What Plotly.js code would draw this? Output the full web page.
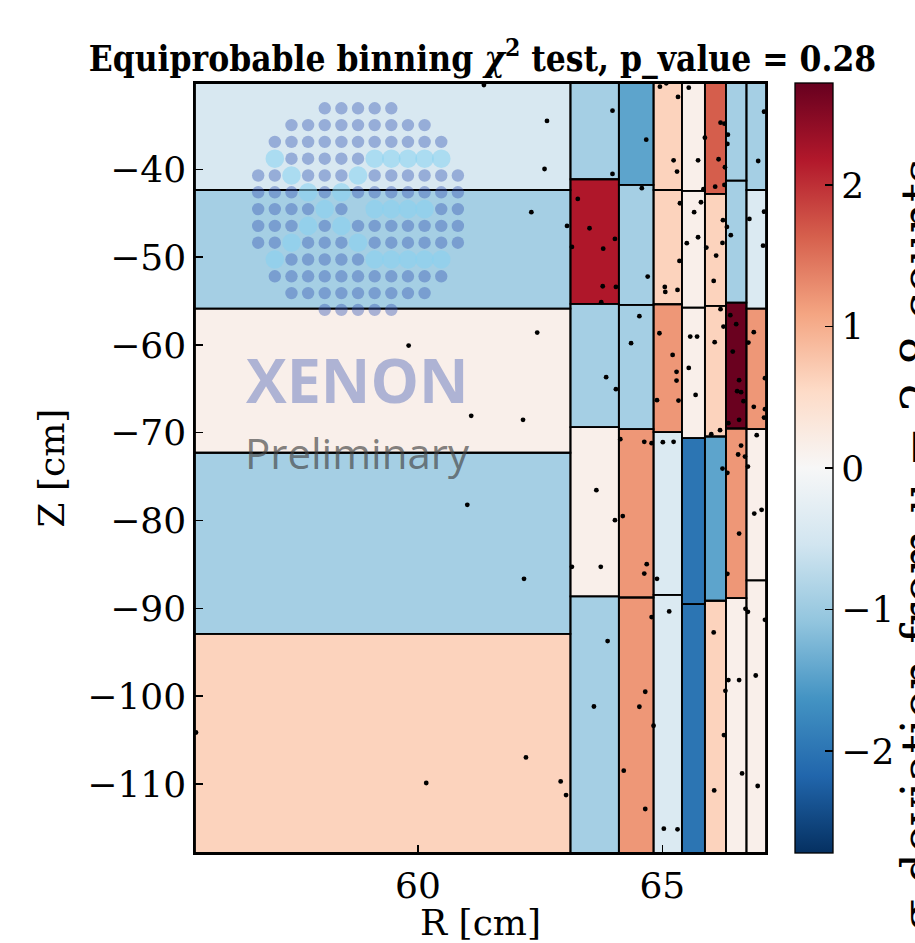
<!DOCTYPE html>
<html>
<head>
<meta charset="utf-8">
<script src="https://cdn.plot.ly/plotly-3.0.1.min.js"></script>
<style>html,body{margin:0;padding:0;background:#fff;}#chart{width:915px;height:943px;}</style>
</head>
<body>
<div id="chart"></div>
<script>
// ---------------- data ----------------
// R bin edges (cm) of the 8 radial columns
const R_edges = [55.44, 63.12, 64.11, 64.82, 65.40, 65.87, 66.30, 66.72, 67.12];
// Z bin edges (cm) in each column, bottom -> top
const Z_edges_c0 = [-117.85, -92.89, -72.28, -55.87, -42.36, -30.18];
const Z_edges_c1 = [-117.85, -88.64, -69.36, -55.33, -41.14, -30.18];
const Z_edges_c2 = [-117.85, -88.76, -69.59, -55.45, -41.79, -30.18];
const Z_edges_c3 = [-117.85, -88.45, -69.93, -55.37, -42.36, -30.18];
const Z_edges_c4 = [-117.85, -89.51, -70.62, -55.75, -42.47, -30.18];
const Z_edges_c5 = [-117.85, -89.13, -70.43, -55.56, -42.81, -30.18];
const Z_edges_c6 = [-117.85, -88.83, -69.52, -55.18, -41.30, -30.18];
const Z_edges_c7 = [-117.85, -86.80, -69.59, -55.87, -42.36, -30.18];
// sigma deviation in each bin, bottom -> top
const dev_c0 = [0.62, -0.92, 0.15, -0.92, -0.45];
const dev_c1 = [-0.92, 0.15, -0.92, 2.20, -0.92];
const dev_c2 = [1.20, 1.20, -0.92, -0.92, -1.45];
const dev_c3 = [-0.40, -0.40, 1.20, 0.62, 0.62];
const dev_c4 = [-2.00, -2.00, 0.15, 0.15, 0.15];
const dev_c5 = [0.62, -1.45, 0.62, 0.62, 1.65];
const dev_c6 = [0.15, 1.20, 2.70, -0.92, -0.92];
const dev_c7 = [0.15, 0.15, 1.20, -0.40, -0.92];
// events (R, Z)
const evR = [61.35,62.64,62.59,62.32,63.05,62.44,59.81,61.09,62.15,61.01,62.17,55.46,62.21,60.17,62.92,63.03,
 63.98,63.98,64.67,64.95,65.08,65.32,65.23,65.30,65.54,65.73,65.87,65.84,66.19,66.27,66.34,66.33,66.15,66.28,66.08,66.27,67.08,66.96,
 64.58,63.27,63.51,63.15,64.03,63.79,63.78,64.05,63.75,64.70,65.36,65.35,65.05,65.06,65.31,65.79,65.65,65.50,65.73,65.90,66.24,66.23,
 66.32,66.40,66.10,66.05,66.78,67.08,67.06,64.53,64.94,65.57,65.71,66.19,66.25,66.39,66.51,66.87,
 66.07,66.76,66.44,64.36,65.21,65.29,65.29,64.89,65.33,65.54,65.68,66.57,66.53,66.61,66.66,66.57,66.35,66.87,67.10,67.10,67.08,
 63.85,64.05,66.00,66.18,64.14,64.63,64.78,65.01,65.23,66.61,66.55,66.69,66.75,66.93,66.23,66.33,63.65,64.03,64.19,63.15,63.74,
 64.68,64.63,64.89,66.57,66.88,67.03,66.33,
 64.78,65.14,63.88,63.60,64.65,64.53,64.82,64.21,64.65,66.05,66.70,66.75,67.10,66.35,66.57,66.29,66.91,66.26,66.63,66.06,66.95,65.03,65.31];
const evZ = [-30.41,-34.50,-39.97,-44.89,-46.45,-58.60,-60.08,-68.08,-68.53,-78.21,-86.63,-104.13,-106.97,-109.88,-109.70,-111.25,
 -33.33,-40.53,-36.63,-30.60,-30.21,-31.77,-38.98,-40.27,-30.71,-38.98,-36.40,-42.28,-34.70,-34.81,-36.06,-37.12,-38.86,-39.77,-41.98,-41.79,-33.44,-39.06,
 -42.16,-43.38,-46.72,-48.84,-47.93,-49.04,-53.32,-53.40,-55.14,-52.22,-43.87,-50.44,-53.40,-53.97,-53.74,-43.76,-44.89,-48.42,-47.74,-48.92,-45.80,-48.39,
 -46.57,-47.51,-49.83,-52.71,-45.66,-44.83,-48.70,-56.73,-58.67,-59.05,-59.05,-55.93,-57.91,-56.62,-57.64,-58.55,
 -59.69,-59.74,-60.76,-59.80,-61.14,-63.07,-64.06,-66.29,-66.34,-62.62,-65.69,-64.02,-65.27,-65.38,-66.41,-68.53,-68.91,-67.05,-63.79,-67.32,-68.27,
 -63.67,-65.04,-70.16,-69.71,-70.73,-71.04,-71.19,-71.07,-71.04,-71.46,-72.48,-72.71,-73.85,-70.28,-74.08,-74.57,-76.54,-79.95,-79.49,-85.27,-85.27,
 -84.96,-86.03,-86.63,-81.48,-79.20,-78.78,-86.06,
 -90.99,-90.35,-93.72,-101.17,-99.49,-101.20,-103.36,-108.48,-112.84,-92.74,-90.05,-90.39,-91.30,-98.16,-98.16,-99.38,-97.64,-104.42,-108.79,-110.73,-110.22,-115.08,-115.16];
const xTicks = [60, 65];
const yTicks = [-110, -100, -90, -80, -70, -60, -50, -40];
const cbTicks = [-2, -1, 0, 1, 2];
const devRange = [-2.72, 2.72];

// ---------------- styling ----------------
const SERIF = 'DejaVu Serif, Liberation Serif, serif';
const RdBu_r = [[0,'#053061'],[0.1,'#2166ac'],[0.2,'#4393c3'],[0.3,'#92c5de'],[0.4,'#d1e5f0'],
  [0.5,'#f7f7f7'],[0.6,'#fddbc7'],[0.7,'#f4a582'],[0.8,'#d6604d'],[0.9,'#b2182b'],[1,'#67001f']];

const zEdges = [Z_edges_c0,Z_edges_c1,Z_edges_c2,Z_edges_c3,Z_edges_c4,Z_edges_c5,Z_edges_c6,Z_edges_c7];
const devs = [dev_c0,dev_c1,dev_c2,dev_c3,dev_c4,dev_c5,dev_c6,dev_c7];

const traces = [];
const shapes = [];
for (let c = 0; c < zEdges.length; c++) {
  traces.push({
    type: 'heatmap',
    x: [R_edges[c], R_edges[c+1]],
    y: zEdges[c],
    z: devs[c].map(v => [v]),
    zmin: devRange[0], zmax: devRange[1],
    colorscale: RdBu_r,
    zsmooth: false,
    hoverinfo: 'skip',
    showscale: c === 0,
    colorbar: {
      thickness: 38, thicknessmode: 'pixels',
      len: 1, lenmode: 'fraction',
      x: 1.049, xanchor: 'left', xref: 'paper',
      y: 0.5, yanchor: 'middle',
      xpad: 0, ypad: 0,
      outlinewidth: 1.3, outlinecolor: '#000',
      ticks: 'inside', ticklen: 8, tickwidth: 1.3, tickcolor: '#000',
      tickvals: cbTicks,
      tickfont: {family: SERIF, size: 36, color: '#000'}
    }
  });
  for (let i = 0; i < zEdges[c].length - 1; i++) {
    shapes.push({type: 'rect', xref: 'x', yref: 'y', layer: 'above',
      x0: R_edges[c], x1: R_edges[c+1], y0: zEdges[c][i], y1: zEdges[c][i+1],
      line: {color: '#000', width: 1.8}, fillcolor: 'rgba(0,0,0,0)'});
  }
}
traces.push({
  type: 'scatter', mode: 'markers', x: evR, y: evZ,
  marker: {color: '#000', size: 4.8, line: {width: 0}},
  hoverinfo: 'skip', cliponaxis: true, showlegend: false
});

// --------- XENON watermark (decoration, pixel placed) ---------
const PL = 195, PT = 83, PW = 572, PH = 770;
const rowSpan = [[4,8],[2,10],[1,11],[1,11],[0,12],[0,12],[0,12],[0,12],[0,12],[1,11],[1,11],[2,10],[4,8]];
const cyan = {3:[1,7,8,9,10,11],4:[2,6],5:[3,5],6:[4,7,8,9,10],7:[3,5],8:[2,6],9:[1,7,8,9,10,11]};
const skip = {6:[6]};
function dot(px, py, r, col) {
  shapes.push({type: 'circle', xref: 'paper', yref: 'paper', layer: 'above',
    xsizemode: 'pixel', ysizemode: 'pixel',
    xanchor: (px - PL) / PW, yanchor: (PT + PH - py) / PH,
    x0: -r, x1: r, y0: -r, y1: r, fillcolor: col, line: {width: 0}});
}
const cyanDots = [];
rowSpan.forEach((span, r) => {
  for (let k = span[0]; k <= span[1]; k++) {
    const px = 258.3 + 16.67 * k, py = 108.3 + 16.8 * r;
    if (cyan[r] && cyan[r].includes(k)) { cyanDots.push([px, py]); continue; }
    if (skip[r] && skip[r].includes(k)) continue;
    dot(px, py, 6.2, 'rgba(60,90,180,0.42)');
  }
});
cyanDots.forEach(p => dot(p[0], p[1], 9.3, 'rgba(135,210,240,0.55)'));

const layout = {
  width: 915, height: 943,
  margin: {l: PL, r: 915 - PL - PW, t: PT, b: 943 - PT - PH, pad: 0},
  paper_bgcolor: '#fff', plot_bgcolor: '#fff',
  showlegend: false,
  title: {
    text: '<b>Equiprobable binning <i>χ</i><sup>2</sup> test, p_value = 0.28</b>',
    font: {family: 'DejaVu Serif Condensed, DejaVu Serif, serif', size: 35, color: '#000'},
    xref: 'paper', x: 0.5035, xanchor: 'center',
    yref: 'container', y: 0.938, yanchor: 'middle'
  },
  xaxis: {
    range: [R_edges[0], R_edges[R_edges.length-1]],
    tickvals: xTicks, ticks: 'inside', ticklen: 8, tickwidth: 1.5, tickcolor: '#000',
    showline: true, mirror: true, linecolor: '#000', linewidth: 1.6,
    showgrid: false, zeroline: false,
    tickfont: {family: SERIF, size: 36, color: '#000'},
    title: {text: 'R [cm]', font: {family: SERIF, size: 36, color: '#000'}, standoff: 4}
  },
  yaxis: {
    range: [Z_edges_c0[0], Z_edges_c0[Z_edges_c0.length-1]],
    tickvals: yTicks, ticks: 'inside', ticklen: 8, tickwidth: 1.5, tickcolor: '#000',
    showline: true, mirror: true, linecolor: '#000', linewidth: 1.6,
    showgrid: false, zeroline: false,
    tickfont: {family: SERIF, size: 36, color: '#000'},
    title: {text: 'Z [cm]', font: {family: SERIF, size: 36, color: '#000'}, standoff: 12}
  },
  shapes: shapes,
  annotations: [
    {text: '<b>XENON</b>', xref: 'paper', yref: 'paper', x: (358 - PL) / PW, y: (PT + PH - 380) / PH,
     xanchor: 'center', yanchor: 'middle', showarrow: false,
     font: {family: 'Open Sans, Lato, sans-serif', size: 61, color: 'rgba(100,120,190,0.5)'}},
    {text: 'Preliminary', xref: 'paper', yref: 'paper', x: (358 - PL) / PW, y: (PT + PH - 452) / PH,
     xanchor: 'center', yanchor: 'middle', showarrow: false,
     font: {family: 'Open Sans, Lato, sans-serif', size: 42, color: 'rgba(70,70,70,0.68)'}},
    {text: 'σ deviation from μ = 2.8 counts', textangle: -90,
     xref: 'paper', yref: 'paper', x: (920 - PL) / PW, y: (PT + PH - 545) / PH,
     xanchor: 'center', yanchor: 'middle', showarrow: false,
     font: {family: SERIF, size: 48, color: '#000'}}
  ]
};

Plotly.newPlot('chart', traces, layout, {staticPlot: true, displayModeBar: false});
</script>
</body>
</html>
